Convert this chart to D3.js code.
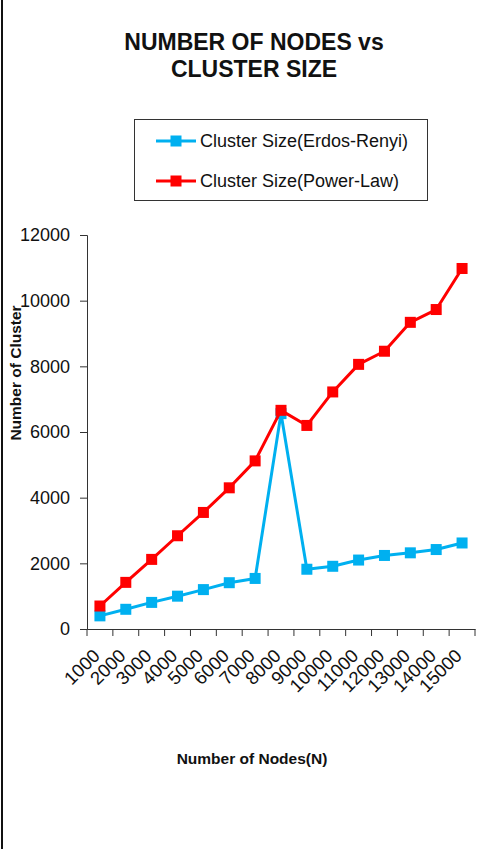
<!DOCTYPE html>
<html>
<head>
<meta charset="utf-8">
<script src="https://cdn.jsdelivr.net/npm/d3@7"></script>
<style>
  body { margin: 0; background: #fff; }
  svg { display: block; font-family: "Liberation Sans", Arial, sans-serif; }
</style>
</head>
<body>
<svg id="chart"></svg>
<script>
// data
const nodes = ["1000", "2000", "3000", "4000", "5000", "6000", "7000", "8000",
    "9000", "10000", "11000", "12000", "13000", "14000", "15000"];
const erdosRenyi = [400, 600, 810, 1000, 1200, 1410, 1540, 6560, 1820, 1910, 2100, 2240, 2320, 2420, 2620];
const powerLaw = [700, 1420, 2120, 2840, 3550, 4300, 5120, 6660, 6200, 7220, 8060, 8460, 9340, 9730, 10980];
const yTicks = [0, 2000, 4000, 6000, 8000, 10000, 12000];

const series = [
    {name: "Cluster Size(Erdos-Renyi)", values: erdosRenyi, color: "#00B0F0"},
    {name: "Cluster Size(Power-Law)", values: powerLaw, color: "#FF0000"},
];

const width = 485, height = 849;
const margin = {top: 235, right: 10, bottom: 220, left: 87};

const svg = d3.select("#chart").attr("width", width).attr("height", height);

// frame line on the left edge
svg.append("line")
    .attr("x1", 2).attr("x2", 2).attr("y1", 0).attr("y2", height)
    .attr("stroke", "#111").attr("stroke-width", 2);

const x = d3.scaleBand().domain(nodes).range([margin.left, 475]);
const y = d3.scaleLinear().domain([0, 12000]).range([629, 235]);

// title
const title = svg.append("text")
    .attr("text-anchor", "middle")
    .attr("font-weight", "bold")
    .attr("font-size", 23)
    .attr("fill", "#111");
title.append("tspan").attr("x", 254).attr("y", 50).text("NUMBER OF NODES vs");
title.append("tspan").attr("x", 254).attr("y", 77).text("CLUSTER SIZE");

// axes
const yAxis = svg.append("g")
    .attr("transform", `translate(${margin.left},0)`)
    .call(d3.axisLeft(y).tickValues(yTicks).tickSize(7).tickPadding(10).tickFormat(d3.format("d")));
yAxis.selectAll("text").attr("font-size", 18).attr("fill", "#111").attr("font-family", "Liberation Sans, Arial");

const xAxis = svg.append("g")
    .attr("transform", `translate(0,${y(0)})`)
    .call(d3.axisBottom(x).tickSize(0).tickFormat(""));

// tick marks at band boundaries
xAxis.selectAll(".bound")
    .data(nodes.concat(["end"]))
    .enter()
    .append("line")
    .attr("x1", (d, i) => margin.left + i * x.step())
    .attr("x2", (d, i) => margin.left + i * x.step())
    .attr("y1", 0).attr("y2", 7)
    .attr("stroke", "#333");

svg.selectAll(".domain").attr("stroke", "#333");
svg.selectAll(".tick line").attr("stroke", "#333");

// rotated category labels
svg.append("g").selectAll("text")
    .data(nodes)
    .enter()
    .append("text")
    .attr("transform", d => `translate(${x(d) + x.bandwidth() / 2 + 1},${y(0) + 28}) rotate(-45)`)
    .attr("text-anchor", "end")
    .attr("font-size", 18.5)
    .attr("fill", "#111")
    .text(d => d);

// axis titles
svg.append("text")
    .attr("transform", `translate(21,373) rotate(-90)`)
    .attr("text-anchor", "middle")
    .attr("font-weight", "bold")
    .attr("font-size", 15.5)
    .attr("fill", "#111")
    .text("Number of Cluster");

svg.append("text")
    .attr("x", 252).attr("y", 764)
    .attr("text-anchor", "middle")
    .attr("font-weight", "bold")
    .attr("font-size", 15.5)
    .attr("fill", "#111")
    .text("Number of Nodes(N)");

// lines and markers
const line = d3.line()
    .x((d, i) => x(nodes[i]) + x.bandwidth() / 2)
    .y(d => y(d));

const msize = 11;
series.forEach(s => {
    svg.append("path")
        .datum(s.values)
        .attr("d", line)
        .attr("fill", "none")
        .attr("stroke", s.color)
        .attr("stroke-width", 3)
        .attr("stroke-linejoin", "round");
    svg.append("g").selectAll("rect")
        .data(s.values)
        .enter()
        .append("rect")
        .attr("x", (d, i) => x(nodes[i]) + x.bandwidth() / 2 - msize / 2)
        .attr("y", d => y(d) - msize / 2)
        .attr("width", msize).attr("height", msize)
        .attr("fill", s.color);
});

// legend
const legend = svg.append("g");
legend.append("rect")
    .attr("x", 134.5).attr("y", 119.5).attr("width", 293).attr("height", 81)
    .attr("fill", "none").attr("stroke", "#333").attr("stroke-width", 1);

const entry = legend.selectAll(".entry")
    .data(series)
    .enter()
    .append("g")
    .attr("transform", (d, i) => `translate(0,${141 + i * 40})`);
entry.append("line")
    .attr("x1", 156).attr("x2", 196)
    .attr("stroke", d => d.color).attr("stroke-width", 3);
entry.append("rect")
    .attr("x", 176 - msize / 2).attr("y", -msize / 2)
    .attr("width", msize).attr("height", msize)
    .attr("fill", d => d.color);
entry.append("text")
    .attr("x", 200).attr("dy", "0.35em")
    .attr("font-size", 18)
    .attr("fill", "#111")
    .text(d => d.name);
</script>
</body>
</html>
